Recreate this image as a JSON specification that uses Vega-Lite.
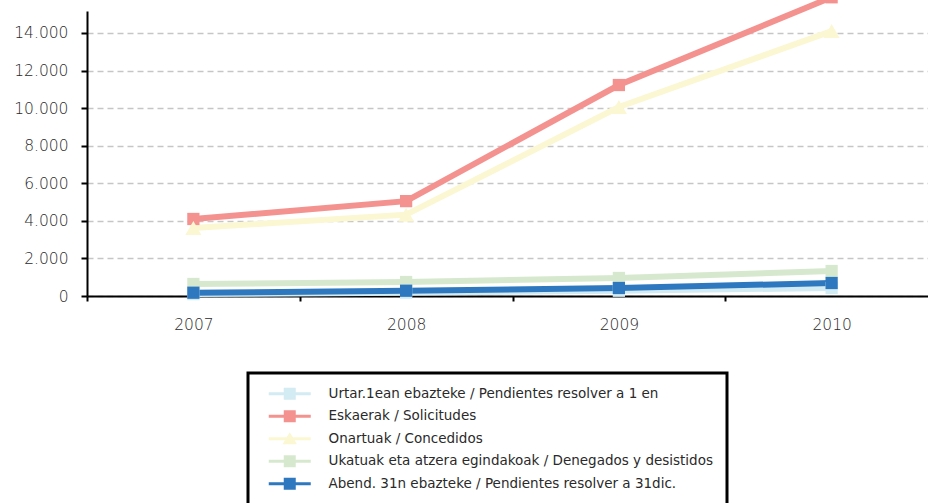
{
  "$schema": "https://vega.github.io/schema/vega-lite/v6.json",
  "width": 841,
  "height": 285,
  "autosize": {"type": "none"},
  "padding": {"left": 87, "top": 11, "right": 0, "bottom": 207},
  "background": "white",
  "config": {
    "font": "DejaVu Sans",
    "view": {"stroke": null},
    "axis": {"labelFont": "DejaVu Sans", "labelColor": "#2a2a2a", "labelFontSize": 15.5, "labelFontWeight": 200}
  },
  "data": {
    "values": [
      {"series": "Urtar.1ean ebazteke / Pendientes resolver a 1 en", "year": "2007", "value": 100, "mk": "sq"},
      {"series": "Urtar.1ean ebazteke / Pendientes resolver a 1 en", "year": "2008", "value": 175, "mk": "sq"},
      {"series": "Urtar.1ean ebazteke / Pendientes resolver a 1 en", "year": "2009", "value": 280, "mk": "sq"},
      {"series": "Urtar.1ean ebazteke / Pendientes resolver a 1 en", "year": "2010", "value": 426, "mk": "sq"},
      {"series": "Eskaerak / Solicitudes", "year": "2007", "value": 4100, "mk": "sq"},
      {"series": "Eskaerak / Solicitudes", "year": "2008", "value": 5050, "mk": "sq"},
      {"series": "Eskaerak / Solicitudes", "year": "2009", "value": 11230, "mk": "sq"},
      {"series": "Eskaerak / Solicitudes", "year": "2010", "value": 15900, "mk": "sq"},
      {"series": "Onartuak / Concedidos", "year": "2007", "value": 3620, "mk": "tri"},
      {"series": "Onartuak / Concedidos", "year": "2008", "value": 4330, "mk": "tri"},
      {"series": "Onartuak / Concedidos", "year": "2009", "value": 10060, "mk": "tri"},
      {"series": "Onartuak / Concedidos", "year": "2010", "value": 14100, "mk": "tri"},
      {"series": "Ukatuak eta atzera egindakoak / Denegados y desistidos", "year": "2007", "value": 640, "mk": "sq"},
      {"series": "Ukatuak eta atzera egindakoak / Denegados y desistidos", "year": "2008", "value": 745, "mk": "sq"},
      {"series": "Ukatuak eta atzera egindakoak / Denegados y desistidos", "year": "2009", "value": 960, "mk": "sq"},
      {"series": "Ukatuak eta atzera egindakoak / Denegados y desistidos", "year": "2010", "value": 1330, "mk": "sq"},
      {"series": "Abend. 31n ebazteke / Pendientes resolver a 31dic.", "year": "2007", "value": 175, "mk": "sq"},
      {"series": "Abend. 31n ebazteke / Pendientes resolver a 31dic.", "year": "2008", "value": 280, "mk": "sq"},
      {"series": "Abend. 31n ebazteke / Pendientes resolver a 31dic.", "year": "2009", "value": 426, "mk": "sq"},
      {"series": "Abend. 31n ebazteke / Pendientes resolver a 31dic.", "year": "2010", "value": 692, "mk": "sq"}
    ]
  },
  "encoding": {
    "x": {
      "field": "year", "type": "ordinal",
      "scale": {"type": "band", "range": [0, 851], "paddingInner": 0, "paddingOuter": 0},
      "axis": {
        "title": null, "labelAngle": 0, "domainColor": "black", "domainWidth": 2,
        "tickColor": "black", "tickWidth": 2, "tickSize": 5, "tickBand": "extent",
        "labelPadding": 16, "grid": false
      }
    },
    "y": {
      "field": "value", "type": "quantitative",
      "scale": {"domain": [0, 15170], "nice": false, "zero": true},
      "axis": {
        "title": null, "values": [0, 2000, 4000, 6000, 8000, 10000, 12000, 14000],
        "labelExpr": "replace(format(datum.value, ','), ',', '.')",
        "domainColor": "black", "domainWidth": 2,
        "tickColor": "black", "tickWidth": 2, "tickSize": 6, "labelPadding": 13,
        "grid": true, "gridColor": "#c6c6c6", "gridDash": [6, 4], "gridWidth": 1.5
      }
    },
    "color": {
      "field": "series", "type": "nominal",
      "sort": null,
      "scale": {
        "domain": [
          "Urtar.1ean ebazteke / Pendientes resolver a 1 en",
          "Eskaerak / Solicitudes",
          "Onartuak / Concedidos",
          "Ukatuak eta atzera egindakoak / Denegados y desistidos",
          "Abend. 31n ebazteke / Pendientes resolver a 31dic."
        ],
        "range": ["#d3ecf4", "#f4928f", "#fbf7d2", "#d6e9ce", "#2e78c0"]
      },
      "legend": {
        "title": null, "orient": "none", "legendX": 161, "legendY": 362,
        "direction": "vertical",
        "fillColor": "white", "strokeColor": "black", "cornerRadius": 0,
        "padding": 14,
        "symbolType": "M0,-0.25H7V0.25H0Z M2.5,-1H4.5V1H2.5Z",
        "symbolSize": 144, "symbolStrokeWidth": 0, "symbolOpacity": 1,
        "labelOffset": 53, "labelFont": "DejaVu Sans", "labelFontSize": 13.5, "labelColor": "#2a2a2a",
        "labelLimit": 600, "rowPadding": 7.5,
        "encode": {
          "legend": {"update": {"strokeWidth": {"value": 3}}},
          "symbols": {"update": {"shape": {"signal": "datum.value === 'Onartuak / Concedidos' ? 'M0,-0.25H7V0.25H0Z M3.5,-1.1L4.7,0.9H2.3Z' : 'M0,-0.25H7V0.25H0Z M2.5,-1H4.5V1H2.5Z'"}}}
        }
      }
    }
  },
  "layer": [
    {
      "mark": {"type": "line", "strokeWidth": 6, "clip": false}
    },
    {
      "mark": {"type": "point", "filled": true, "opacity": 1, "clip": false},
      "encoding": {
        "shape": {
          "field": "mk", "type": "nominal",
          "scale": {"domain": ["sq", "tri"], "range": ["square", "triangle-up"]},
          "legend": null
        },
        "size": {
          "field": "mk", "type": "nominal",
          "scale": {"domain": ["sq", "tri"], "range": [150, 260]},
          "legend": null
        }
      }
    }
  ]
}
